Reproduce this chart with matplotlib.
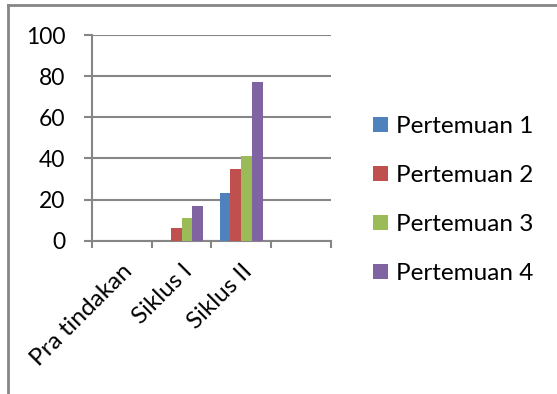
import matplotlib.pyplot as plt
import numpy as np
from matplotlib.lines import Line2D
from matplotlib.transforms import ScaledTranslation

plt.rcParams['font.family'] = ['Lato', 'DejaVu Sans']

categories = ['Pra tindakan', 'Siklus I', 'Siklus II', '']
series = ['Pertemuan 1', 'Pertemuan 2', 'Pertemuan 3', 'Pertemuan 4']
pertemuan_1 = [0, 0, 23, 0]
pertemuan_2 = [0, 6, 35, 0]
pertemuan_3 = [0, 11, 41, 0]
pertemuan_4 = [0, 17, 77, 0]
colors = ['#4F81BD', '#C0504D', '#9BBB59', '#8064A2']

fig = plt.figure(figsize=(5.57, 3.94), dpi=100, facecolor='w')
ax = fig.add_axes([0.165, 0.389, 0.429, 0.522])

grey = '#868686'
x = np.arange(len(categories))
width = 1 / 5.5
values = [pertemuan_1, pertemuan_2, pertemuan_3, pertemuan_4]
for i, (name, vals, c) in enumerate(zip(series, values, colors)):
    ax.bar(x + (i - 1.5) * width, vals, width, color=c, label=name,
           linewidth=0, zorder=3)

ax.set_xlim(-0.5, len(categories) - 0.5)
ax.set_ylim(0, 100)
ax.set_yticks(range(0, 101, 20))
ax.yaxis.grid(True, color=grey, linewidth=1.5, zorder=0)

# category boundaries carry the tick marks, labels sit at centres
ax.set_xticks(np.arange(len(categories) + 1) - 0.5)
ax.set_xticklabels([])
ax.set_xticks(x, minor=True)
ax.set_xticklabels(categories, minor=True, rotation=45, ha='right',
                   rotation_mode='anchor', fontsize=17.5)
shift = ScaledTranslation(-16 / 100, 0, fig.dpi_scale_trans)
for lab in ax.get_xticklabels(minor=True):
    lab.set_transform(lab.get_transform() + shift)
ax.tick_params(axis='x', which='major', length=5, width=1.5, color=grey,
               direction='out')
ax.tick_params(axis='x', which='minor', length=0, pad=14)
ax.tick_params(axis='y', length=6, width=1.5, color=grey, pad=13,
               labelsize=16.5)

for side in ['top', 'right']:
    ax.spines[side].set_visible(False)
for side in ['left', 'bottom']:
    ax.spines[side].set_color(grey)
    ax.spines[side].set_linewidth(1.5)

leg = fig.legend(loc='center left', bbox_to_anchor=(373 / 557, 1 - 200 / 394),
                 frameon=False, fontsize=17.5, handlelength=0.6,
                 handleheight=0.6, handletextpad=0.33, labelspacing=1.15,
                 borderpad=0, borderaxespad=0)

# outer chart frame
fig.add_artist(Line2D([7.5 / 557, 7.5 / 557], [0, 1 - 5 / 394],
                      color=grey, linewidth=2, transform=fig.transFigure))
fig.add_artist(Line2D([7.5 / 557, 1], [1 - 5 / 394, 1 - 5 / 394],
                      color=grey, linewidth=2, transform=fig.transFigure))

fig.savefig('out.png', dpi=100, facecolor='w')
